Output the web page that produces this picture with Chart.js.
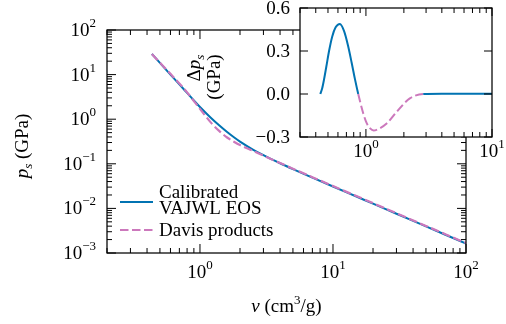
<!DOCTYPE html>
<html>
<head>
<meta charset="utf-8">
<script src="https://cdn.jsdelivr.net/npm/chart.js@4.4.1/dist/chart.umd.min.js"></script>
<style>
html, body { margin: 0; padding: 0; background: #fff; }
#wrap { position: relative; width: 506px; height: 324px; }
#main { position: absolute; left: 0; top: 0; }
#inset { position: absolute; left: 170px; top: 0; }
</style>
</head>
<body>
<div id="wrap">
  <canvas id="main" width="506" height="324"></canvas>
  <canvas id="inset" width="336" height="172"></canvas>
</div>
<script>
// specific volume (cm3/g) and isentrope pressure (GPa)
const v_main       = [0.435, 0.5, 0.6, 0.7, 0.8, 0.9, 1.0, 1.2, 1.4, 1.6, 1.8, 2.0, 2.5, 3, 4, 5, 7, 10, 15, 20, 30, 50, 70, 100];
const p_calibrated = [29.0, 18.3, 10.0, 6.03, 3.88, 2.63, 1.88, 1.094, 0.721, 0.516, 0.394, 0.315, 0.209, 0.156, 0.1028, 0.076, 0.0491, 0.031, 0.01845, 0.01276, 0.0076, 0.00395, 0.00257, 0.00163];
const p_davis      = [29.0, 18.5, 10.4, 6.35, 4.0, 2.55, 1.70, 0.86, 0.54, 0.389, 0.313, 0.263, 0.195, 0.152, 0.104, 0.0775, 0.0502, 0.0317, 0.0189, 0.0131, 0.0078, 0.00405, 0.00264, 0.00167];

// pressure difference for the inset (GPa)
const v_inset  = [0.435, 0.45, 0.465, 0.485, 0.51, 0.54, 0.575, 0.622, 0.67, 0.72, 0.77, 0.82, 0.869, 0.953, 1.01, 1.08, 1.15, 1.25, 1.46, 1.75, 2.23, 2.85, 4, 6, 10];
const dp_inset = [0, 0.04, 0.10, 0.19, 0.30, 0.40, 0.465, 0.488, 0.44, 0.34, 0.22, 0.10, 0, -0.136, -0.2, -0.24, -0.255, -0.245, -0.206, -0.125, -0.031, 0, 0.002, 0.002, 0.002];

// ticks
const mainXTicks   = [1, 10, 100];
const mainYTicks   = [1e-3, 1e-2, 1e-1, 1, 10, 100];
const insetXTicks  = [1, 10];
const insetYTicks  = [-0.3, 0, 0.3, 0.6];
const insetYLabels = ['\u22120.3', '0.0', '0.3', '0.6'];

const legendLabels = [['Calibrated', 'VAJWL EOS'], ['Davis products']];

const BLUE = '#0173B2';
const PINK = '#CC78BC';
const DASH = [8.5, 3.5];
const FAM = '"Liberation Serif", "Times New Roman", serif';
const F_BIG = '19px ' + FAM;
const F_SUP = '13px ' + FAM;
const F_IT  = 'italic 19px ' + FAM;
const F_ITS = 'italic 13px ' + FAM;

Chart.defaults.font.family = FAM;

function xy(xs, ys) {
  return xs.map((x, i) => ({ x: x, y: ys[i] }));
}

function logMinors(lo, hi) {
  const out = [];
  for (let d = Math.floor(Math.log10(lo)); d < Math.ceil(Math.log10(hi)); d++) {
    for (let k = 2; k <= 9; k++) {
      const v = k * Math.pow(10, d);
      if (v >= lo * 0.999 && v <= hi * 1.001) out.push(v);
    }
  }
  return out;
}

// draws a run of text pieces (font / vertical shift) starting from x
function drawParts(ctx, parts, x, y, align) {
  let w = 0;
  parts.forEach(p => { ctx.font = p.font; w += ctx.measureText(p.t).width; });
  let cx = align === 'center' ? x - w / 2 : (align === 'right' ? x - w : x);
  ctx.textAlign = 'left';
  ctx.textBaseline = 'alphabetic';
  parts.forEach(p => {
    ctx.font = p.font;
    ctx.fillText(p.t, cx, y + (p.dy || 0));
    cx += ctx.measureText(p.t).width;
  });
}

function powParts(e) {
  const s = e < 0 ? '\u2212' + (-e) : String(e);
  return [{ t: '10', font: F_BIG }, { t: s, font: F_SUP, dy: -9 }];
}

function frame(ctx, a) {
  ctx.strokeStyle = '#000';
  ctx.lineWidth = 1.25;
  ctx.strokeRect(a.left, a.top, a.right - a.left, a.bottom - a.top);
}

function xTicks(ctx, sc, a, vals, len) {
  ctx.beginPath();
  vals.forEach(v => {
    const x = sc.getPixelForValue(v);
    ctx.moveTo(x, a.bottom); ctx.lineTo(x, a.bottom - len);
    ctx.moveTo(x, a.top);    ctx.lineTo(x, a.top + len);
  });
  ctx.stroke();
}

function yTicks(ctx, sc, a, vals, len) {
  ctx.beginPath();
  vals.forEach(v => {
    const y = sc.getPixelForValue(v);
    ctx.moveTo(a.left, y);  ctx.lineTo(a.left + len, y);
    ctx.moveTo(a.right, y); ctx.lineTo(a.right - len, y);
  });
  ctx.stroke();
}

const mainDecor = {
  id: 'mainDecor',
  afterDraw(chart) {
    const ctx = chart.ctx, a = chart.chartArea;
    const sx = chart.scales.x, sy = chart.scales.y;
    ctx.save();
    frame(ctx, a);
    ctx.lineWidth = 1;
    xTicks(ctx, sx, a, mainXTicks, 9);
    xTicks(ctx, sx, a, logMinors(0.2, 100), 5);
    yTicks(ctx, sy, a, mainYTicks, 9);
    yTicks(ctx, sy, a, logMinors(1e-3, 100), 5);

    ctx.fillStyle = '#000';
    mainXTicks.forEach(v => {
      drawParts(ctx, powParts(Math.round(Math.log10(v))), sx.getPixelForValue(v), a.bottom + 25, 'center');
    });
    mainYTicks.forEach(v => {
      drawParts(ctx, powParts(Math.round(Math.log10(v))), a.left - 11, sy.getPixelForValue(v) + 6, 'right');
    });

    // axis titles
    drawParts(ctx, [
      { t: 'v', font: F_IT }, { t: ' (cm', font: F_BIG },
      { t: '3', font: F_SUP, dy: -8 }, { t: '/g)', font: F_BIG }
    ], (a.left + a.right) / 2, 312, 'center');

    ctx.save();
    ctx.translate(28, 146);
    ctx.rotate(-Math.PI / 2);
    drawParts(ctx, [
      { t: 'p', font: F_IT }, { t: 's', font: F_ITS, dy: 4 }, { t: ' (GPa)', font: F_BIG }
    ], 0, 0, 'center');
    ctx.restore();

    // legend
    ctx.lineWidth = 2;
    ctx.strokeStyle = BLUE;
    ctx.beginPath(); ctx.moveTo(120, 202); ctx.lineTo(153, 202); ctx.stroke();
    ctx.strokeStyle = PINK;
    ctx.lineWidth = 2.2;
    ctx.setLineDash(DASH);
    ctx.beginPath(); ctx.moveTo(120, 230); ctx.lineTo(153, 230); ctx.stroke();
    ctx.setLineDash([]);
    ctx.font = F_BIG;
    ctx.textAlign = 'left';
    ctx.fillText(legendLabels[0][0], 159, 198);
    ctx.fillText(legendLabels[0][1], 159, 214);
    ctx.fillText(legendLabels[1][0], 159, 236);
    ctx.restore();
  }
};

const insetDecor = {
  id: 'insetDecor',
  beforeDatasetsDraw(chart) {
    const ctx = chart.ctx, a = chart.chartArea;
    ctx.save();
    ctx.fillStyle = '#fff';
    ctx.fillRect(a.left, a.top, a.right - a.left, a.bottom - a.top);
    ctx.restore();
  },
  afterDraw(chart) {
    const ctx = chart.ctx, a = chart.chartArea;
    const sx = chart.scales.x, sy = chart.scales.y;
    ctx.save();
    frame(ctx, a);
    ctx.lineWidth = 1;
    xTicks(ctx, sx, a, insetXTicks, 8);
    xTicks(ctx, sx, a, logMinors(0.3, 10), 5);
    yTicks(ctx, sy, a, insetYTicks, 8);

    ctx.fillStyle = '#000';
    insetXTicks.forEach(v => {
      drawParts(ctx, powParts(Math.round(Math.log10(v))), sx.getPixelForValue(v), a.bottom + 20, 'center');
    });
    insetYTicks.forEach((v, i) => {
      drawParts(ctx, [{ t: insetYLabels[i], font: F_BIG }], a.left - 10, sy.getPixelForValue(v) + 6, 'right');
    });

    ctx.save();
    ctx.translate(30, 68);
    ctx.rotate(-Math.PI / 2);
    drawParts(ctx, [
      { t: '\u0394', font: F_BIG }, { t: 'p', font: F_IT }, { t: 's', font: F_ITS, dy: 4 }
    ], 0, 0, 'center');
    ctx.restore();
    ctx.save();
    ctx.translate(50, 77);
    ctx.rotate(-Math.PI / 2);
    drawParts(ctx, [{ t: '(GPa)', font: F_BIG }], 0, 0, 'center');
    ctx.restore();
    ctx.restore();
  }
};

const mainChart = new Chart(document.getElementById('main'), {
  type: 'line',
  data: {
    datasets: [
      {
        label: 'Calibrated VAJWL EOS',
        data: xy(v_main, p_calibrated),
        borderColor: BLUE,
        borderWidth: 2,
        pointRadius: 0,
        cubicInterpolationMode: 'monotone',
        order: 1
      },
      {
        label: 'Davis products',
        data: xy(v_main, p_davis),
        borderColor: PINK,
        borderWidth: 2.2,
        borderDash: DASH,
        pointRadius: 0,
        cubicInterpolationMode: 'monotone',
        order: 0
      }
    ]
  },
  options: {
    responsive: false,
    animation: false,
    layout: { padding: { top: 30, right: 40, left: 0, bottom: 0 } },
    plugins: { legend: { display: false }, tooltip: { enabled: false } },
    scales: {
      x: {
        type: 'logarithmic', min: 0.2, max: 100,
        grid: { display: false }, border: { display: false }, ticks: { display: false },
        afterFit: s => { s.height = 71; }
      },
      y: {
        type: 'logarithmic', min: 1e-3, max: 100,
        grid: { display: false }, border: { display: false }, ticks: { display: false },
        afterFit: s => { s.width = 107; }
      }
    }
  },
  plugins: [mainDecor]
});

const isNeg = ctx => ctx.p0.parsed.y < -0.001 || ctx.p1.parsed.y < -0.001;

const insetChart = new Chart(document.getElementById('inset'), {
  type: 'line',
  data: {
    datasets: [{
      label: 'difference',
      data: xy(v_inset, dp_inset),
      borderColor: BLUE,
      borderWidth: 2,
      pointRadius: 0,
      cubicInterpolationMode: 'monotone',
      segment: {
        borderColor: ctx => isNeg(ctx) ? PINK : BLUE,
        borderDash: ctx => isNeg(ctx) ? DASH : undefined
      }
    }]
  },
  options: {
    responsive: false,
    animation: false,
    layout: { padding: { top: 8, right: 14, left: 0, bottom: 0 } },
    plugins: { legend: { display: false }, tooltip: { enabled: false } },
    scales: {
      x: {
        type: 'logarithmic', min: 0.3, max: 10,
        grid: { display: false }, border: { display: false }, ticks: { display: false },
        afterFit: s => { s.height = 35; }
      },
      y: {
        type: 'linear', min: -0.3, max: 0.6,
        grid: { display: false }, border: { display: false }, ticks: { display: false },
        afterFit: s => { s.width = 130; }
      }
    }
  },
  plugins: [insetDecor]
});
</script>
</body>
</html>
